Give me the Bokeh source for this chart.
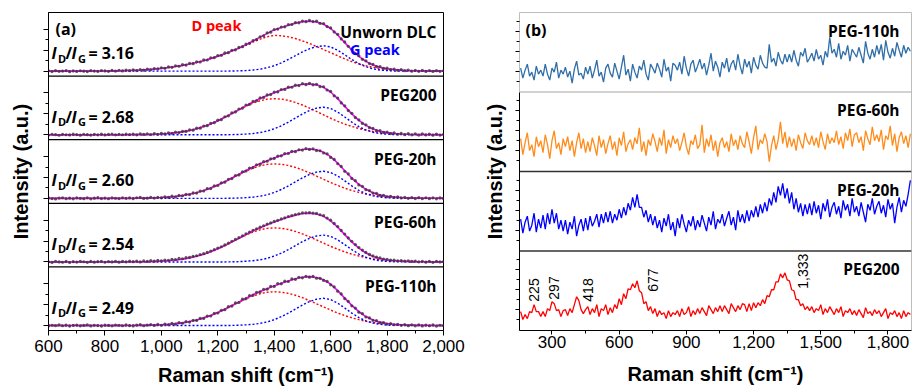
import math
from bokeh.plotting import figure
from bokeh.layouts import row
from bokeh.models import Span, Label, FixedTicker, NumeralTickFormatter, CustomJSTickFormatter
from bokeh.embed import file_html
from bokeh.resources import INLINE

# ---------------- DATA : panel (a) ----------------
# fit grid: 600..2000 step 25 (57 pts); measured grid: 600..2000 step 12.5 (113 pts)
# intensities are in a.u. above each spectrum's baseline
names_a = ["Unworn DLC", "PEG200", "PEG-20h", "PEG-60h", "PEG-110h"]
ratios_a = ["3.16", "2.68", "2.60", "2.54", "2.49"]
xticks_a = [600, 800, 1000, 1200, 1400, 1600, 1800, 2000]

d_unworn = [0, 0, 0, 0, 0, 0, 0.1, 0.1, 0.2, 0.3, 0.4, 0.6, 0.8, 1.1, 1.5, 2.1,
            2.8, 3.6, 4.6, 5.8, 7.1, 8.7, 10.5, 12.6, 15.0, 17.5, 20.2, 23.0,
            26.0, 29.2, 32.2, 34.6, 36.0, 35.6, 34.5, 32.8, 30.5, 27.8, 24.8, 21.7,
            18.6, 15.4, 12.3, 9.6, 7.3, 5.4, 3.9, 2.8, 1.9, 1.3, 0.9, 0.6,
            0.4, 0.3, 0.2, 0.1, 0.1]
g_unworn = [0, 0, 0, 0, 0, 0, 0, 0, 0, 0, 0, 0, 0, 0, 0, 0,
            0, 0, 0, 0, 0, 0, 0, 0, 0, 0, 0.1, 0.3,
            0.6, 1.1, 2.0, 3.4, 5.5, 8.3, 11.7, 15.5, 19.3, 22.5, 24.7, 25.5,
            24.3, 21.0, 16.4, 11.7, 7.5, 4.4, 2.3, 1.1, 0.5, 0.2, 0.1, 0,
            0, 0, 0, 0, 0]
d_peg200 = [0, 0, 0, 0, 0, 0, 0, 0, 0, 0, 0, 0, 0.1, 0.2, 0.3, 0.5,
            0.8, 1.3, 2.0, 2.9, 4.3, 6.0, 8.2, 10.9, 14.0, 17.5, 21.3, 25.0,
            28.6, 31.8, 34.2, 35.8, 36.3, 35.9, 34.6, 32.5, 29.9, 26.8, 23.4, 20.0,
            16.6, 13.5, 10.7, 8.3, 6.3, 4.6, 3.3, 2.3, 1.6, 1.1, 0.7, 0.5,
            0.3, 0.2, 0.1, 0.1, 0]
g_peg200 = [0, 0, 0, 0, 0, 0, 0, 0, 0, 0, 0, 0, 0, 0, 0, 0,
            0, 0, 0, 0, 0, 0, 0, 0, 0, 0, 0.1, 0.3,
            0.7, 1.2, 2.2, 3.7, 6.0, 9.0, 12.7, 16.8, 20.9, 24.4, 26.8, 27.7,
            26.4, 22.8, 17.8, 12.7, 8.1, 4.8, 2.5, 1.2, 0.5, 0.2, 0.1, 0,
            0, 0, 0, 0, 0]
d_20h = [0, 0, 0, 0, 0, 0, 0, 0, 0, 0, 0, 0, 0.1, 0.2, 0.3, 0.5,
         0.8, 1.2, 1.9, 2.8, 4.1, 5.7, 7.8, 10.4, 13.4, 16.7, 20.4, 23.9,
         27.3, 30.4, 32.7, 34.2, 34.7, 34.3, 33.1, 31.1, 28.6, 25.6, 22.4, 19.1,
         15.9, 12.9, 10.2, 7.9, 6.0, 4.4, 3.2, 2.2, 1.5, 1.1, 0.7, 0.5,
         0.3, 0.2, 0.1, 0.1, 0]
g_20h = [0, 0, 0, 0, 0, 0, 0, 0, 0, 0, 0, 0, 0, 0, 0, 0,
         0, 0, 0, 0, 0, 0, 0, 0, 0, 0, 0.1, 0.3,
         0.7, 1.2, 2.2, 3.6, 5.9, 8.9, 12.5, 16.6, 20.6, 24.1, 26.4, 27.3,
         26.0, 22.5, 17.6, 12.5, 8.0, 4.7, 2.5, 1.2, 0.5, 0.2, 0.1, 0,
         0, 0, 0, 0, 0]
d_60h = [0, 0, 0, 0, 0, 0, 0, 0, 0, 0, 0, 0, 0.1, 0.2, 0.3, 0.5,
         0.8, 1.2, 1.9, 2.7, 4.1, 5.7, 7.7, 10.3, 13.2, 16.5, 20.1, 23.6,
         27.0, 30.1, 32.3, 33.8, 34.3, 33.9, 32.7, 30.7, 28.3, 25.3, 22.1, 18.9,
         15.7, 12.8, 10.1, 7.8, 6.0, 4.3, 3.1, 2.2, 1.5, 1.0, 0.7, 0.5,
         0.3, 0.2, 0.1, 0.1, 0]
g_60h = [0, 0, 0, 0, 0, 0, 0, 0, 0, 0, 0, 0, 0, 0, 0, 0,
         0, 0, 0, 0, 0, 0, 0, 0, 0, 0, 0.1, 0.3,
         0.7, 1.2, 2.1, 3.6, 5.9, 8.8, 12.4, 16.4, 20.4, 23.8, 26.1, 27.0,
         25.7, 22.2, 17.4, 12.4, 7.9, 4.7, 2.4, 1.2, 0.5, 0.2, 0.1, 0,
         0, 0, 0, 0, 0]
d_110h = [0, 0, 0, 0, 0, 0, 0, 0, 0, 0, 0, 0, 0.1, 0.2, 0.3, 0.5,
          0.7, 1.2, 1.9, 2.7, 4.0, 5.6, 7.7, 10.2, 13.1, 16.4, 20.0, 23.4,
          26.8, 29.8, 32.0, 33.5, 34.0, 33.6, 32.4, 30.5, 28.0, 25.1, 21.9, 18.7,
          15.6, 12.6, 10.0, 7.8, 5.9, 4.3, 3.1, 2.2, 1.5, 1.0, 0.7, 0.5,
          0.3, 0.2, 0.1, 0.1, 0]
g_110h = [0, 0, 0, 0, 0, 0, 0, 0, 0, 0, 0, 0, 0, 0, 0, 0,
          0, 0, 0, 0, 0, 0, 0, 0, 0, 0, 0.1, 0.3,
          0.7, 1.2, 2.2, 3.6, 5.9, 8.9, 12.5, 16.6, 20.6, 24.1, 26.5, 27.4,
          26.1, 22.5, 17.6, 12.5, 8.0, 4.7, 2.5, 1.2, 0.5, 0.2, 0.1, 0,
          0, 0, 0, 0, 0]

m_unworn = [0.3, -0.4, 0.5, -0.2, 0.1, 0.6, -0.5, 0.2,
            -0.3, 0.4, 0.0, -0.4, 0.5, 0.1, -0.3, 0.6,
            0.2, -0.2, 0.7, 0.1, 0.9, 0.2, 1.0, 0.5,
            1.3, 0.6, 1.6, 1.0, 2.0, 1.4, 2.6, 2.2,
            3.4, 2.8, 4.2, 3.8, 5.3, 4.9, 6.5, 6.1,
            7.9, 7.5, 9.4, 9.2, 11.3, 11.2, 13.4, 13.5,
            15.7, 15.9, 18.3, 18.6, 21.0, 21.4, 23.9, 24.6,
            27.1, 28.0, 30.8, 31.8, 34.6, 35.5, 38.4, 39.2,
            41.9, 42.3, 44.4, 44.6, 46.7, 46.9, 48.8, 48.6,
            50.4, 49.8, 51.0, 49.9, 50.3, 48.1, 47.9, 44.8,
            43.5, 39.5, 37.0, 32.4, 29.4, 25.0, 22.0, 17.7,
            15.5, 11.9, 10.4, 7.6, 6.8, 4.6, 4.5, 2.7,
            3.0, 1.6, 2.1, 0.9, 1.5, 0.4, 1.1, 0.0,
            0.8, -0.2, 0.7, -0.3, 0.6, -0.3, 0.5, -0.2,
            0.4]
m_peg200 = [-0.3, 0.5, 0.1, -0.5, 0.4, 0.0, -0.2, 0.6,
            0.2, -0.4, 0.5, 0.1, -0.3, 0.4, -0.1, 0.6,
            -0.2, 0.3, 0.7, -0.1, 0.4, 0.0, 0.6, 0.2,
            0.7, -0.1, 0.8, 0.3, 0.9, 0.2, 1.2, 0.4,
            1.4, 0.8, 1.9, 1.4, 2.6, 2.2, 3.4, 3.3,
            4.9, 4.6, 6.6, 6.6, 8.8, 9.1, 11.5, 12.1,
            14.6, 15.2, 18.1, 19.0, 22.0, 22.9, 25.9, 26.8,
            29.9, 30.6, 33.6, 34.2, 37.0, 37.5, 40.1, 40.4,
            42.9, 43.1, 45.5, 45.6, 47.9, 47.8, 49.9, 49.5,
            51.4, 50.4, 51.8, 50.2, 50.8, 48.3, 48.3, 45.0,
            43.6, 39.2, 36.9, 32.0, 29.1, 24.3, 21.6, 17.3,
            15.0, 11.4, 10.0, 7.1, 6.4, 4.1, 4.1, 2.3,
            2.7, 1.2, 1.9, 0.5, 1.4, 0.1, 1.1, -0.1,
            0.9, -0.3, 0.8, -0.2, 0.7, -0.4, 0.6, -0.3,
            0.4]
m_20h = [0.4, -0.2, -0.6, 0.3, 0.6, -0.4, 0.2, -0.5,
         0.5, 0.0, -0.3, 0.6, -0.5, 0.2, 0.7, -0.2,
         0.3, -0.4, 0.5, 0.1, -0.2, 0.6, 0.0, 0.4,
         -0.3, 0.6, 0.9, -0.1, 0.2, 1.0, 0.3, 1.1,
         0.5, 1.6, 1.0, 2.2, 1.5, 2.9, 2.6, 4.0,
         3.8, 5.4, 5.3, 7.3, 7.4, 9.7, 9.8, 12.5,
         12.9, 15.6, 16.3, 19.2, 19.9, 23.0, 23.6, 26.7,
         27.5, 30.4, 31.0, 33.8, 34.4, 36.9, 37.3, 39.8,
         40.2, 42.5, 42.8, 45.0, 45.1, 47.3, 47.0, 48.9,
         48.6, 50.1, 49.2, 49.9, 48.1, 47.9, 45.6, 44.8,
         41.2, 39.2, 34.8, 32.1, 27.2, 24.6, 20.0, 17.8,
         13.5, 12.1, 8.7, 7.8, 5.3, 5.0, 3.0, 3.1,
         1.6, 2.0, 0.9, 1.4, 0.4, 1.1, 0.0, 0.8,
         -0.2, 0.7, -0.4, 0.6, -0.3, 0.5, -0.5, 0.4,
         -0.1]
m_60h = [0.2, -0.5, 0.6, 0.0, -0.3, 0.5, -0.6, 0.3,
         -0.1, 0.6, 0.2, -0.4, 0.5, -0.2, 0.3, 0.7,
         -0.3, 0.4, 0.0, 0.6, -0.2, 0.5, 0.1, 0.8,
         0.3, 0.9, 0.0, 1.0, 0.5, 1.3, 0.8, 1.5,
         1.2, 1.9, 1.7, 2.6, 2.4, 3.5, 3.2, 4.4,
         4.6, 5.7, 6.2, 7.4, 8.3, 9.6, 10.9, 12.3,
         13.9, 15.3, 17.1, 18.9, 20.8, 22.6, 24.5, 26.3,
         28.3, 29.9, 31.9, 33.4, 35.0, 36.4, 38.1, 39.3,
         40.8, 41.9, 43.3, 44.4, 45.7, 46.6, 47.7, 48.4,
         49.3, 49.4, 49.7, 49.2, 48.8, 47.5, 46.5, 44.2,
         42.0, 38.7, 35.6, 31.7, 28.1, 24.2, 20.8, 17.5,
         14.5, 11.9, 9.6, 7.6, 6.1, 4.8, 4.0, 2.9,
         2.6, 1.8, 1.8, 1.2, 1.4, 0.8, 1.1, 0.5,
         0.9, 0.1, 0.7, -0.2, 0.6, -0.4, 0.5, 0.0,
         0.4]
m_110h = [-0.4, 0.3, 0.0, 0.6, -0.2, 0.4, -0.5, 0.2,
          0.5, -0.3, 0.1, 0.6, -0.4, 0.3, 0.0, -0.5,
          0.4, 0.1, -0.3, 0.5, 0.2, -0.2, 0.6, 0.0,
          -0.4, 0.5, 0.9, -0.2, 0.4, 1.0, 0.1, 1.2,
          0.3, 1.5, 0.8, 2.1, 1.4, 2.9, 2.3, 3.9,
          3.5, 5.3, 5.1, 7.2, 7.2, 9.5, 9.6, 12.2,
          12.6, 15.4, 16.0, 19.0, 19.6, 22.7, 23.2, 26.5,
          27.0, 30.2, 30.5, 33.5, 33.8, 36.5, 36.6, 39.5,
          39.4, 42.2, 42.0, 44.6, 44.3, 46.9, 46.5, 48.6,
          48.0, 49.6, 48.7, 49.4, 47.6, 47.5, 45.4, 44.4,
          41.0, 38.9, 34.6, 31.8, 27.0, 24.3, 19.8, 17.6,
          13.4, 12.0, 8.6, 7.7, 5.2, 4.9, 2.9, 3.0,
          1.5, 1.9, 0.8, 1.3, 0.3, 1.0, -0.1, 0.7,
          -0.3, 0.6, -0.4, 0.5, -0.2, 0.6, -0.5, 0.3,
          0.0]

d_series = [d_unworn, d_peg200, d_20h, d_60h, d_110h]
g_series = [g_unworn, g_peg200, g_20h, g_60h, g_110h]
m_series = [m_unworn, m_peg200, m_20h, m_60h, m_110h]

# ---------------- DATA : panel (b) ----------------
# grid 160..1900 step 10 (175 pts), intensities a.u.
names_b = ["PEG-110h", "PEG-60h", "PEG-20h", "PEG200"]
colors_b = ["#2f6ea8", "#ff8c1a", "#0000ff", "#ff0000"]
xticks_b = [300, 600, 900, 1200, 1500, 1800]

b_110h = [24, 14, 22, 28, 16, 20, 12, 26, 18, 22,
          16, 28, 18, 12, 24, 20, 30, 14, 22, 18,
          25, 15, 21, 9, 23, 31, 17, 19, 13, 25,
          18, 26, 14, 22, 32, 16, 20, 10, 24, 28,
          19, 15, 29, 21, 13, 25, 37, 17, 23, 11,
          28, 20, 14, 26, 22, 32, 18, 12, 28, 24,
          19, 29, 23, 15, 33, 21, 25, 11, 29, 27,
          22, 30, 18, 36, 24, 16, 28, 32, 20, 26,
          33, 23, 29, 17, 27, 39, 21, 31, 25, 15,
          30, 24, 34, 20, 28, 32, 22, 38, 26, 18,
          33, 25, 31, 19, 35, 27, 23, 37, 29, 25,
          24, 48, 30, 34, 26, 40, 32, 28, 38, 30,
          38, 30, 42, 32, 26, 40, 36, 44, 30, 34,
          39, 31, 43, 33, 37, 27, 41, 35, 55, 39,
          43, 35, 49, 33, 41, 37, 47, 31, 43, 39,
          35, 45, 37, 29, 51, 39, 33, 43, 35, 47,
          38, 48, 32, 52, 40, 34, 44, 36, 50, 42,
          35, 47, 39, 45, 41]
b_60h = [33, 17, 29, 39, 21, 27, 15, 35, 25, 31,
         19, 37, 27, 13, 31, 41, 23, 29, 17, 33,
         25, 35, 21, 31, 15, 29, 39, 23, 33, 19,
         30, 20, 34, 26, 16, 36, 24, 32, 18, 28,
         36, 22, 30, 16, 34, 26, 40, 20, 28, 32,
         22, 34, 28, 44, 20, 30, 16, 32, 26, 38,
         30, 20, 34, 26, 42, 18, 32, 24, 36, 28,
         33, 21, 29, 39, 25, 17, 31, 27, 37, 23,
         27, 47, 19, 33, 25, 37, 21, 31, 15, 29,
         34, 24, 30, 20, 38, 26, 32, 22, 36, 28,
         24, 40, 30, 18, 34, 46, 22, 32, 28, 38,
         30, 10, 26, 36, 22, 32, 50, 28, 40, 24,
         35, 25, 33, 21, 37, 29, 23, 39, 31, 27,
         36, 26, 34, 24, 40, 30, 22, 38, 28, 34,
         29, 41, 27, 35, 23, 39, 31, 43, 25, 37,
         39, 29, 35, 21, 41, 33, 27, 45, 31, 37,
         30, 42, 22, 36, 32, 46, 26, 38, 20, 34,
         40, 28, 36, 24, 38]
b_20h = [32, 18, 29, 35, 20, 26, 38, 19, 32, 23,
         36, 22, 38, 27, 42, 28, 38, 22, 31, 20,
         31, 17, 29, 22, 35, 15, 26, 32, 20, 33,
         21, 35, 25, 30, 37, 24, 37, 28, 39, 29,
         40, 28, 37, 31, 42, 33, 44, 36, 48, 41,
         54, 44, 57, 44, 44, 34, 41, 29, 37, 26,
         35, 23, 31, 19, 33, 25, 37, 21, 29, 15,
         33, 23, 37, 27, 19, 31, 25, 35, 21, 31,
         24, 36, 28, 20, 34, 26, 40, 22, 32, 28,
         37, 25, 33, 40, 26, 34, 21, 41, 29, 37,
         28, 41, 30, 41, 34, 45, 34, 47, 38, 49,
         40, 53, 46, 59, 49, 65, 56, 68, 53, 63,
         48, 59, 42, 53, 39, 48, 35, 47, 37, 48,
         36, 50, 38, 46, 32, 48, 40, 52, 34, 44,
         49, 37, 45, 33, 51, 41, 47, 35, 53, 39,
         45, 35, 49, 39, 29, 47, 41, 53, 37, 45,
         50, 38, 46, 34, 52, 42, 48, 28, 44, 54,
         39, 51, 45, 57, 71]
b_peg200 = [19, 11, 16, 12, 19, 18, 26, 19, 19, 14,
            19, 14, 22, 20, 29, 27, 20, 21, 14, 20,
            21, 15, 22, 18, 26, 34, 30, 21, 17, 21,
            24, 16, 22, 18, 26, 14, 22, 20, 26, 16,
            23, 18, 26, 22, 32, 26, 37, 32, 42, 41,
            47, 43, 50, 40, 38, 27, 29, 20, 24, 17,
            22, 14, 20, 16, 18, 12, 20, 14, 18, 16,
            20, 14, 22, 16, 18, 24, 14, 20, 16, 22,
            17, 23, 19, 15, 25, 21, 17, 23, 19, 25,
            19, 25, 21, 17, 27, 23, 19, 25, 21, 27,
            26, 19, 27, 20, 28, 23, 28, 25, 31, 27,
            35, 34, 41, 41, 49, 49, 57, 53, 58, 51,
            50, 41, 40, 31, 31, 25, 27, 21, 24, 20,
            24, 18, 22, 20, 26, 16, 22, 18, 24, 20,
            16, 22, 18, 24, 14, 20, 18, 22, 16, 20,
            15, 21, 17, 13, 23, 17, 19, 15, 21, 17,
            20, 14, 18, 22, 12, 18, 16, 20, 14, 18,
            12, 20, 14, 18, 16]
series_b = [b_110h, b_60h, b_20h, b_peg200]

peak_pos = [225, 297, 418, 677, 1333]
peak_txt = ["225", "297", "418", "677", "1,333"]

# ---------------- layout constants ----------------
SUB_A = 64.0      # height of one stacked spectrum in panel (a)
BASE_A = 5.0      # baseline above sub-panel bottom
SUB_B = 80.0
AX_FONT = "Liberation Sans"
TXT_FONT = "Open Sans"
peak_dx = [-1, 3, 10, 17, 20]      # px offset of peak labels
peak_y = [29, 31, 29, 39, 42]       # label start height in sub-panel units


def base_style(p):
    p.xgrid.visible = False
    p.ygrid.visible = False
    p.background_fill_color = "white"
    p.border_fill_color = "white"
    for ax in (p.xaxis[0], p.yaxis[0]):
        ax.axis_label_text_font = AX_FONT
        ax.axis_label_text_font_style = "bold"
        ax.axis_label_text_font_size = "20px"
        ax.axis_label_text_color = "black"
        ax.major_label_text_font = AX_FONT
        ax.major_label_text_font_size = "17px"
        ax.major_label_text_color = "black"
        ax.axis_line_color = "black"
        ax.major_tick_line_color = "black"
        ax.minor_tick_line_color = "black"
        ax.major_tick_in = 0
        ax.minor_tick_in = 0
        ax.major_tick_out = 5
        ax.minor_tick_out = 3
    p.yaxis[0].formatter = CustomJSTickFormatter(code="return ''")
    p.yaxis[0].major_label_standoff = 0
    p.xaxis[0].formatter = NumeralTickFormatter(format="0,0")


def lab(p, x, y, text, dx=0, dy=0, size="15.5px", style="bold", color="black",
        align="left", font=TXT_FONT, angle=0.0):
    p.add_layout(Label(x=x, y=y, x_offset=dx, y_offset=dy, text=text, angle=angle,
                       text_font=font, text_font_size=size, text_font_style=style,
                       text_color=color, text_align=align, text_baseline="middle"))


# ================= panel (a) =================
pa = figure(width=480, height=389, x_range=(600, 2000), y_range=(0, 5 * SUB_A),
            output_backend="svg", toolbar_location=None, title=None,
            min_border_left=48, min_border_right=37, min_border_top=12, min_border_bottom=59)
base_style(pa)
pa.outline_line_color = "black"
pa.outline_line_width = 1
pa.xaxis.axis_label = "Raman shift (cm\u207b\u00b9)"
pa.yaxis.axis_label = "Intensity (a.u.)"
pa.xaxis.ticker = FixedTicker(ticks=xticks_a,
                              minor_ticks=[t + 100 for t in xticks_a[:-1]])
pa.yaxis.ticker = FixedTicker(
    ticks=[k * SUB_A + t for k in range(5) for t in (BASE_A, BASE_A + 21, BASE_A + 42)],
    minor_ticks=[k * SUB_A + t for k in range(5) for t in (BASE_A + 10.5, BASE_A + 31.5)])
pa.xaxis.major_label_standoff = 4
pa.xaxis.axis_label_standoff = 9
pa.yaxis.axis_label_standoff = 12

for j in range(1, 5):
    pa.add_layout(Span(location=j * SUB_A, dimension="width", line_color="black", line_width=1.2))

x_fit = [600 + 25 * i for i in range(len(d_unworn))]
x_meas = [600 + 12.5 * i for i in range(len(m_unworn))]

for k in range(5):
    base = (4 - k) * SUB_A + BASE_A
    d, g, m = d_series[k], g_series[k], m_series[k]
    pa.line(x_fit, [base + v for v in d], line_color="#ff0000", line_width=1.4, line_dash="2 2")
    pa.line(x_fit, [base + v for v in g], line_color="#0000ff", line_width=1.4, line_dash="2 2")
    pa.line(x_fit, [base + a + b for a, b in zip(d, g)], line_color="#ff00ff", line_width=1.6)
    pa.scatter(x_meas, [base + v for v in m], size=3.2, fill_color="#333333",
               line_color=None, fill_alpha=0.8)

    top = (5 - k) * SUB_A
    bottom = (4 - k) * SUB_A
    lab(pa, 2000, top, names_a[k], dx=-7, dy=-19, align="right")
    # I_D / I_G = value
    parts = [("I", 0, 0, "16px", "bold italic"), ("D", 6.5, -5, "11px", "bold"),
             ("/", 14, 0, "16px", "bold"), ("I", 20, 0, "16px", "bold italic"),
             ("G", 26.5, -5, "11px", "bold"), ("= " + ratios_a[k], 37, 0, "16px", "bold")]
    for txt, dx, dy, fs, st in parts:
        lab(pa, 600, bottom, txt, dx=3 + dx, dy=23 + dy, size=fs, style=st)

lab(pa, 600, 5 * SUB_A, "(a)", dx=7, dy=-16, size="16px")
lab(pa, 1195, 5 * SUB_A, "D peak", dy=-13, size="14.5px", color="#ff0000", align="center")
lab(pa, 1757, 5 * SUB_A, "G peak", dy=-37, size="14.5px", color="#0000ff", align="center")

# ================= panel (b) =================
pb = figure(width=432, height=389, x_range=(155, 1905), y_range=(0, 4 * SUB_B),
            output_backend="svg", toolbar_location=None, title=None,
            min_border_left=39, min_border_right=1, min_border_top=12, min_border_bottom=55)
base_style(pb)
pb.outline_line_color = "#bdbdbd"
pb.outline_line_width = 1
pb.xaxis.axis_label = "Raman shift (cm\u207b\u00b9)"
pb.yaxis.axis_label = "Intensity (a.u.)"
pb.xaxis.ticker = FixedTicker(ticks=xticks_b,
                              minor_ticks=[t + 150 for t in xticks_b[:-1]])
pb.yaxis.ticker = FixedTicker(
    ticks=[k * SUB_B + t for k in range(4) for t in (21, 41, 61)],
    minor_ticks=[k * SUB_B + t for k in range(4) for t in (11, 31, 51, 71)])
pb.yaxis.bounds = (0, 3 * SUB_B)
pb.xaxis.major_tick_out = 4
pb.xaxis.major_label_standoff = 1
pb.xaxis.axis_label_standoff = 12
pb.yaxis.major_tick_out = 4
pb.yaxis.axis_label_standoff = 10

pb.add_layout(Span(location=3 * SUB_B, dimension="width", line_color="#a6a6a6", line_width=1.2))
pb.add_layout(Span(location=2 * SUB_B, dimension="width", line_color="#333333", line_width=1.5))
pb.add_layout(Span(location=1 * SUB_B, dimension="width", line_color="#333333", line_width=1.5))

x_b = [160 + 10 * i for i in range(len(b_110h))]
for k in range(4):
    off = (3 - k) * SUB_B
    pb.line(x_b, [off + v for v in series_b[k]], line_color=colors_b[k], line_width=1.3)
    lab(pb, 1905, (4 - k) * SUB_B, names_b[k], dx=-12, dy=-18, align="right")

for pos, txt, dx, yy in zip(peak_pos, peak_txt, peak_dx, peak_y):
    lab(pb, pos, yy, txt, dx=dx, size="14px", style="normal", font=AX_FONT, angle=math.pi / 2)

lab(pb, 155, 4 * SUB_B, "(b)", dx=6, dy=-17, size="16px")

layout = row(pa, pb)
open("out.html", "w").write(file_html(layout, INLINE))
